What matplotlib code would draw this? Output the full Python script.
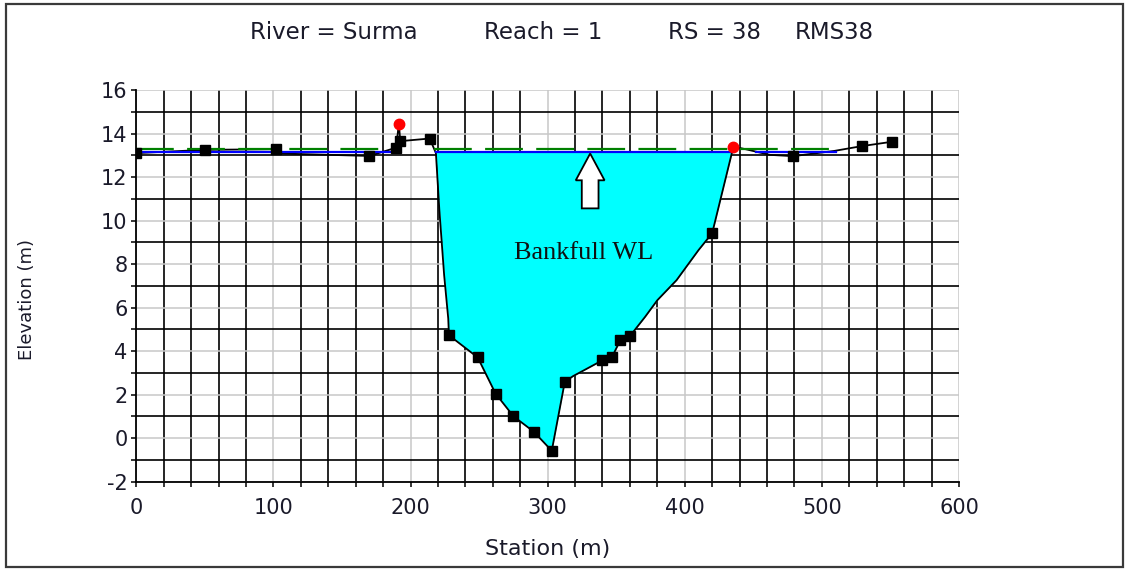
import matplotlib
matplotlib.use("Agg")
import matplotlib.pyplot as plt
from matplotlib.patches import Rectangle, FancyArrow
from matplotlib.ticker import MultipleLocator, FixedLocator

plt.rcParams["axes.unicode_minus"] = False

# ground profile (station m, elevation m)
station = [0, 50, 102, 106, 170, 189.5, 191.5, 192.5, 214, 218.5, 221, 224.5,
           227.5, 228, 249, 262, 275, 290, 303, 312.5, 318.5, 340, 347, 353,
           360, 371, 380, 394, 410, 420, 435.5, 445, 462, 479, 509, 529, 551]
elev = [13.10, 13.25, 13.28, 13.08, 12.97, 13.35, 14.46, 13.65, 13.77, 13.10,
        10.5, 7.5, 5.5, 4.73, 3.71, 2.05, 1.01, 0.29, -0.58, 2.59, 2.85, 3.58,
        3.74, 4.50, 4.69, 5.57, 6.34, 7.26, 8.64, 9.42, 13.40, 13.27, 13.02,
        12.96, 13.20, 13.42, 13.62]
# surveyed points shown with square markers
marked = [0, 50, 102, 170, 189.5, 192.5, 214, 228, 249, 262, 275, 290, 303,
          312.5, 340, 347, 353, 360, 420, 479, 529, 551]
# bank stations
bank_sta = [191.5, 435.5]

ws_elev = 13.13        # water surface
bankfull_elev = 13.28  # bankfull level
ws_spans = [(0, 190), (218.5, 435.5), (452, 510)]
bf_spans = [(0, 191), (217, 436), (440, 511)]
channel = (218.5, 435.5)

# title pieces and their centres (px from left)
title_parts = ["River = Surma", "Reach = 1", "RS = 38", "RMS38"]
title_x = [334, 543, 714, 834]

font = "DejaVu Sans"
txt_color = "#1a1a2a"

fig = plt.figure(figsize=(11.31, 5.69), dpi=100)
ax = fig.add_axes([136.3 / 1131, 1 - 481.7 / 569, (959 - 136.3) / 1131, (481.7 - 90) / 569])

ax.set_xlim(0, 600)
ax.set_ylim(-2, 16)

# grid: light grey on labelled ticks, black in between
ax.xaxis.set_major_locator(MultipleLocator(100))
ax.xaxis.set_minor_locator(FixedLocator([x for x in range(20, 600, 20) if x % 100]))
ax.yaxis.set_major_locator(MultipleLocator(2))
ax.yaxis.set_minor_locator(FixedLocator(list(range(-1, 16, 2))))
ax.grid(which="major", color="#c8c8c8", lw=1.1)
ax.grid(which="minor", color="black", lw=1.2)
ax.set_axisbelow(True)

ax.tick_params(which="both", direction="out", length=3.8, width=1.1, color="black")
ax.tick_params(axis="x", pad=8, labelsize=15, labelcolor=txt_color)
ax.tick_params(axis="y", pad=2.5, labelsize=15, labelcolor=txt_color)
for lab in ax.get_xticklabels() + ax.get_yticklabels():
    lab.set_fontfamily(font)

for side in ["top", "right"]:
    ax.spines[side].set_visible(False)
for side in ["left", "bottom"]:
    ax.spines[side].set_linewidth(1.3)

# water in the main channel
ch_x = [s for s in station if channel[0] <= s <= channel[1]]
ch_y = [e for s, e in zip(station, elev) if channel[0] <= s <= channel[1]]
ax.fill_between(ch_x, ch_y, ws_elev, color="#00ffff", lw=0, zorder=2)

ax.plot(station, elev, color="black", lw=1.3, zorder=3)

for a, b in ws_spans:
    ax.plot([a, b], [ws_elev, ws_elev], color="#0000ff", lw=1.6, zorder=4)
for a, b in bf_spans:
    ax.plot([a, b], [bankfull_elev, bankfull_elev], color="#008000", lw=1.6,
            dashes=(17, 6), zorder=5)

mx = [s for s in station if s in marked]
my = [e for s, e in zip(station, elev) if s in marked]
ax.plot(mx, my, ls="none", marker="s", ms=6.5, color="black", zorder=6)
bx = [s for s in station if s in bank_sta]
by = [e for s, e in zip(station, elev) if s in bank_sta]
ax.plot(bx, by, ls="none", marker="o", ms=7.5, color="red", mec="red", zorder=7)

# arrow pointing up to the bankfull level
ax.add_patch(FancyArrow(331, 10.56, 0, 2.52, width=12.2, head_width=21,
                        head_length=1.23, length_includes_head=True,
                        fc="white", ec="black", lw=1.3, zorder=6))
ax.text(326, 8.5, "Bankfull WL", family="Liberation Serif", fontsize=19,
        ha="center", va="center", color="#101010", zorder=7)

for part, px in zip(title_parts, title_x):
    fig.text(px / 1131, 1 - 32.5 / 569, part, family=font, fontsize=16.5,
             ha="center", va="center", color=txt_color)
fig.text(547.5 / 1131, 1 - 549 / 569, "Station (m)", family=font,
         fontsize=16, ha="center", va="center", color=txt_color)
fig.text(27 / 1131, 1 - 299 / 569, "Elevation (m)", family=font,
         fontsize=13, ha="center", va="center", rotation=90, color=txt_color)

# frame around the whole chart
fig.patches.append(Rectangle((6 / 1131, 1 - 567 / 569), 1117 / 1131, 563 / 569,
                             transform=fig.transFigure, fill=False,
                             ec="#3a3a3a", lw=1.6))

fig.savefig("out.png", dpi=100)
